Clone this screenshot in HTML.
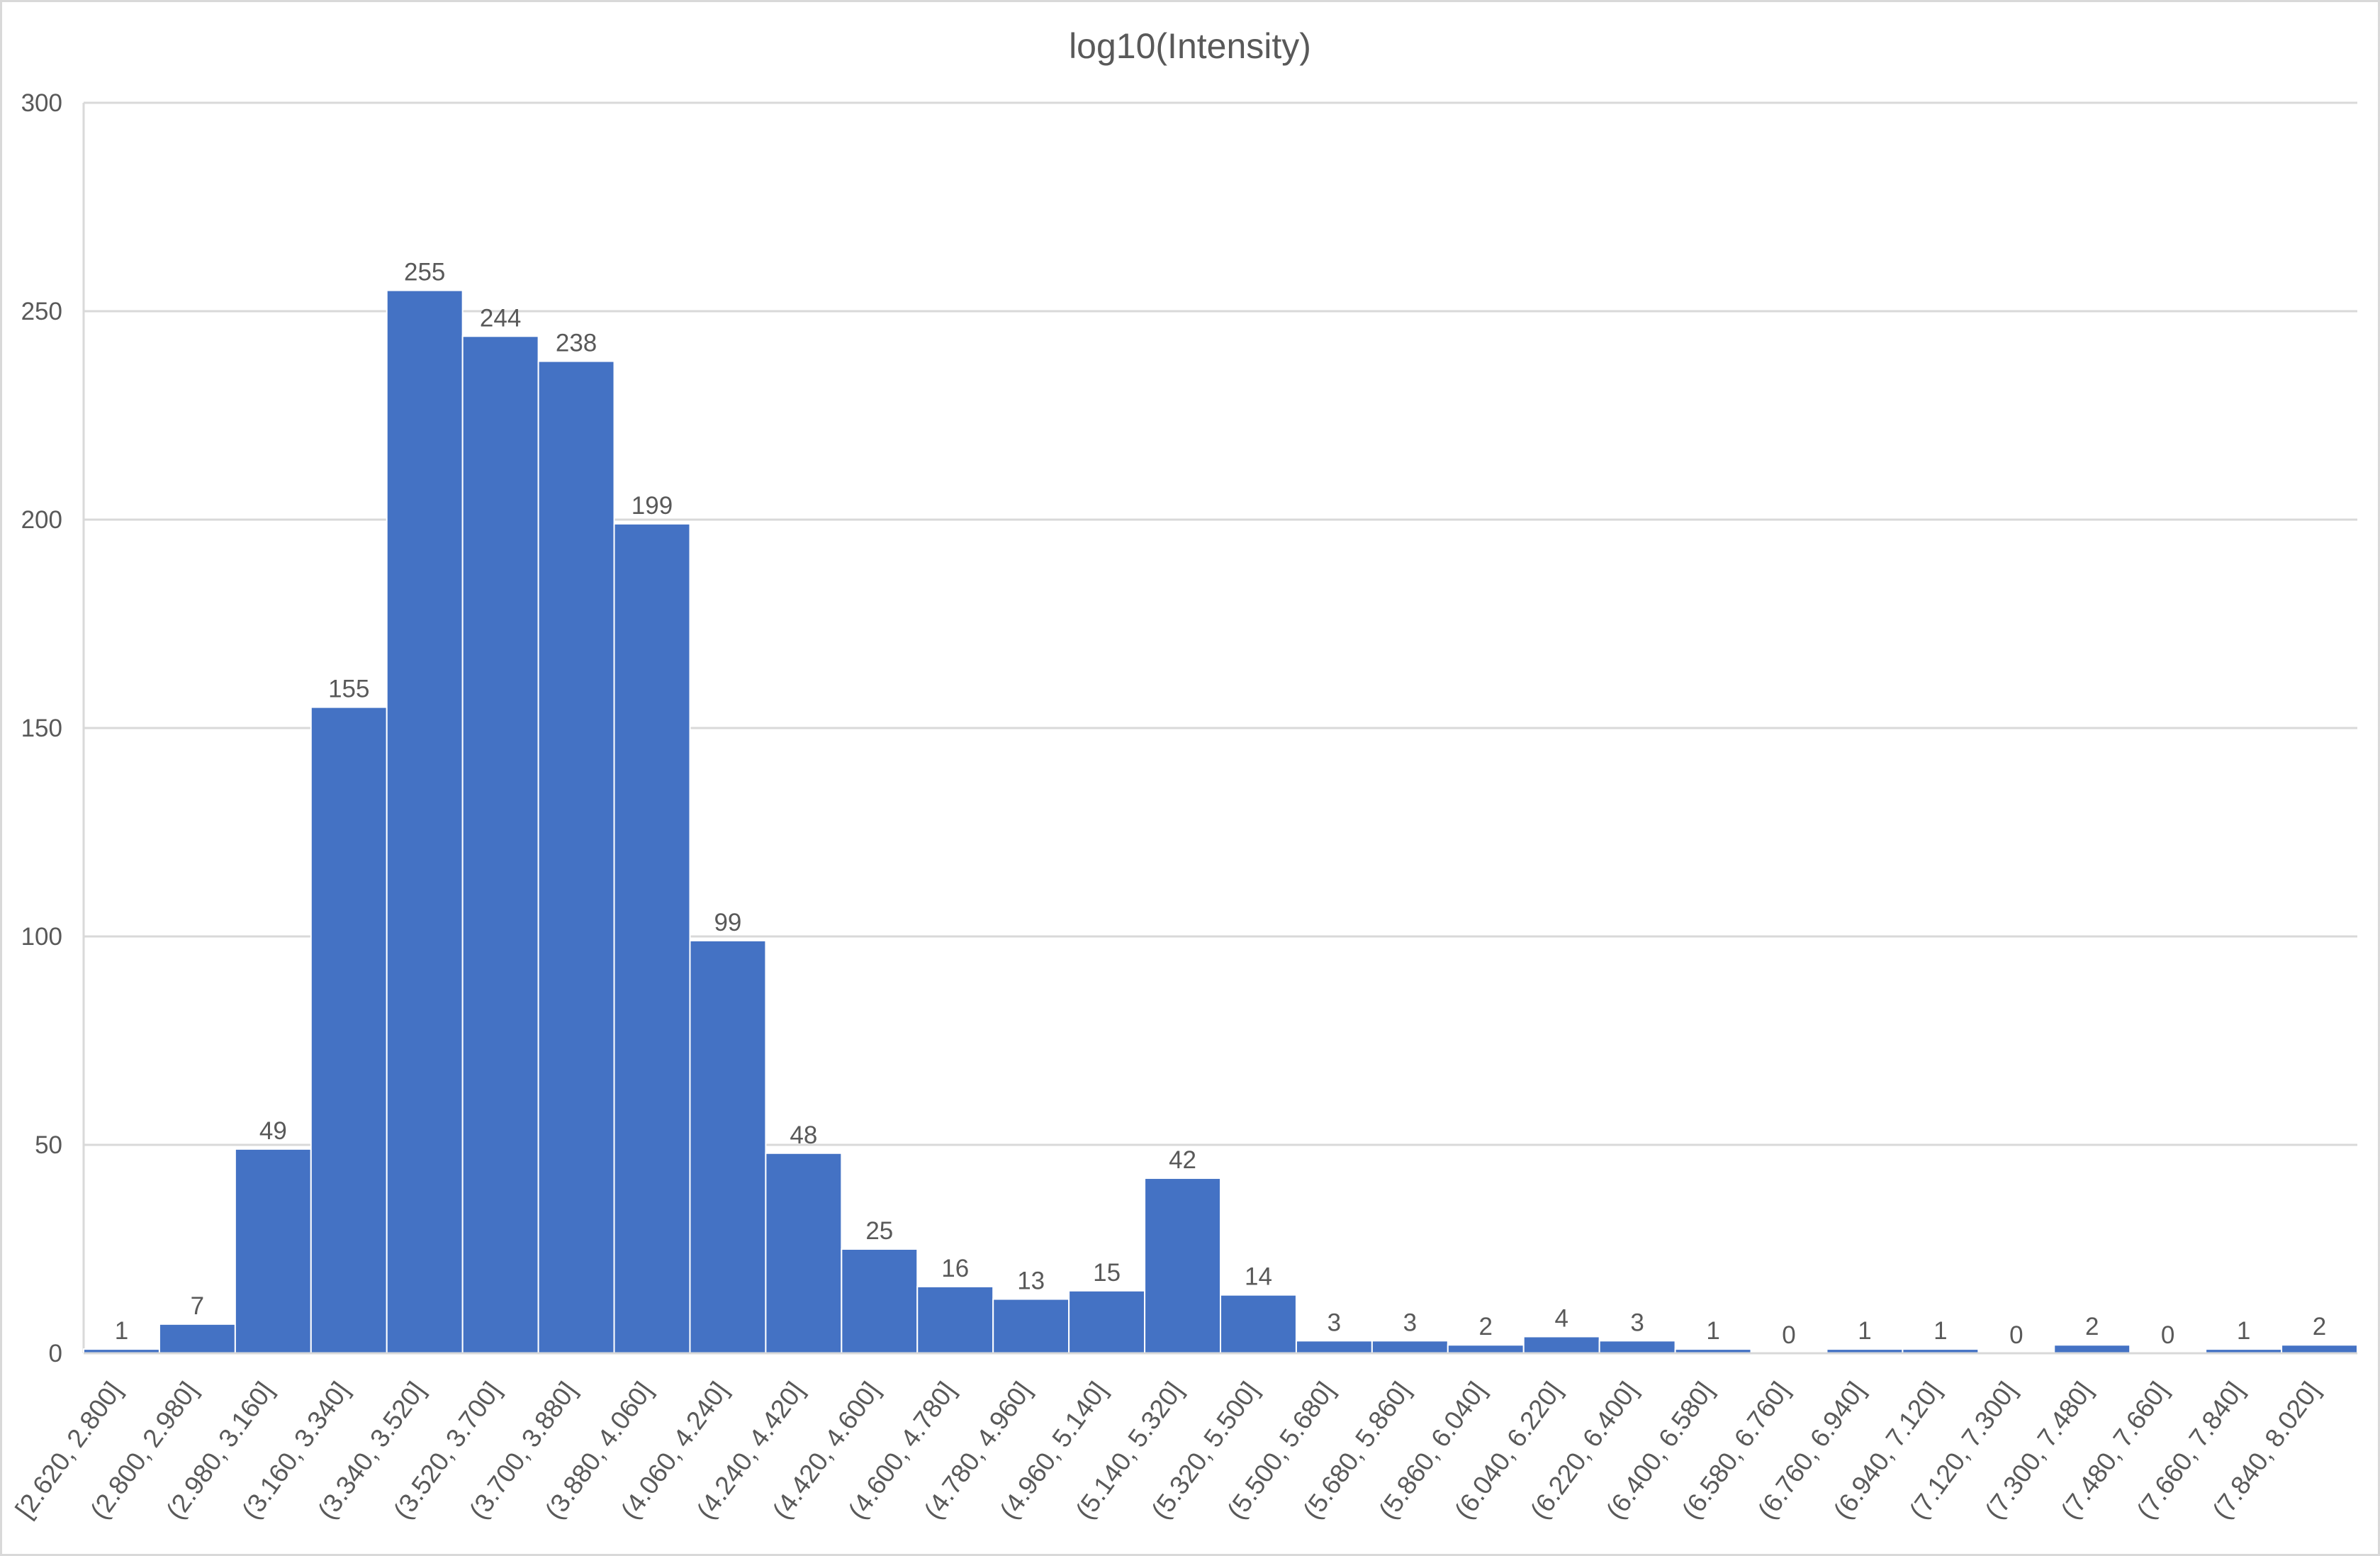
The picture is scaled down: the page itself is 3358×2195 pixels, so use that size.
<!DOCTYPE html>
<html><head><meta charset="utf-8"><style>
html,body{margin:0;padding:0;background:#fff}
svg{display:block}
text{font-family:"Liberation Sans",sans-serif;fill:#595959}
</style></head><body>
<svg id="chart" width="3358" height="2195" viewBox="0 0 3358 2195" xmlns="http://www.w3.org/2000/svg">
<rect x="1.5" y="1.5" width="3355" height="2192" fill="#fff" stroke="#d9d9d9" stroke-width="3"/>
<text x="1679" y="82" font-size="50" text-anchor="middle">log10(Intensity)</text>
<g id="grid"></g>
<g id="yticks"></g>
<g id="bars"></g>
<g id="labels"></g>
<g id="xticks"></g>
</svg>
<script>
const categories = ["[2.620, 2.800]","(2.800, 2.980]","(2.980, 3.160]","(3.160, 3.340]","(3.340, 3.520]","(3.520, 3.700]","(3.700, 3.880]","(3.880, 4.060]","(4.060, 4.240]","(4.240, 4.420]","(4.420, 4.600]","(4.600, 4.780]","(4.780, 4.960]","(4.960, 5.140]","(5.140, 5.320]","(5.320, 5.500]","(5.500, 5.680]","(5.680, 5.860]","(5.860, 6.040]","(6.040, 6.220]","(6.220, 6.400]","(6.400, 6.580]","(6.580, 6.760]","(6.760, 6.940]","(6.940, 7.120]","(7.120, 7.300]","(7.300, 7.480]","(7.480, 7.660]","(7.660, 7.840]","(7.840, 8.020]"];
const counts = [1,7,49,155,255,244,238,199,99,48,25,16,13,15,42,14,3,3,2,4,3,1,0,1,1,0,2,0,1,2];
const yTicks = [0,50,100,150,200,250,300];

const NS="http://www.w3.org/2000/svg";
const L=118,R=3326,T=145,B=1909,YMAX=300;
const bw=(R-L)/categories.length;
function x(i){return L+i*bw;}
function y(v){return B-(v/YMAX)*(B-T);}
function mk(tag,attrs,parent,txt){const e=document.createElementNS(NS,tag);for(const k in attrs)e.setAttribute(k,attrs[k]);if(txt!==undefined)e.textContent=txt;parent.appendChild(e);return e;}
const grid=document.getElementById('grid'),yt=document.getElementById('yticks'),bars=document.getElementById('bars'),lab=document.getElementById('labels'),xt=document.getElementById('xticks');
yTicks.forEach(v=>{
  const g=mk('line',{x1:L,x2:R,y1:y(v),y2:y(v),stroke:'#d9d9d9','stroke-width':3},grid);
  
  
  const t=mk('text',{x:88,y:y(v)+12,'font-size':35,'text-anchor':'end'},yt,String(v));
  
  
});
const ax=mk('line',{x1:L,x2:L,y1:T,y2:B,stroke:'#d9d9d9','stroke-width':3},grid);


counts.forEach((c,i)=>{
  const r=mk('rect',{x:x(i),y:y(c),width:bw,height:B-y(c),fill:'#4472c4',stroke:'#fff','stroke-width':2},bars);
  
  
  const t=mk('text',{x:x(i)+bw/2,y:y(c)-14,'font-size':35,'text-anchor':'middle'},lab,String(c));
  
  
  const cx=x(i)+bw/2+2, cy=B+52;
  const xl=mk('text',{x:cx,y:cy,'font-size':37,'text-anchor':'end',transform:`rotate(-54 ${cx} ${cy})`},xt,categories[i]);
  
  
});
const xa=mk('line',{x1:L,x2:R,y1:B,y2:B,stroke:'#d9d9d9','stroke-width':3},xt);


</script>
</body></html>
